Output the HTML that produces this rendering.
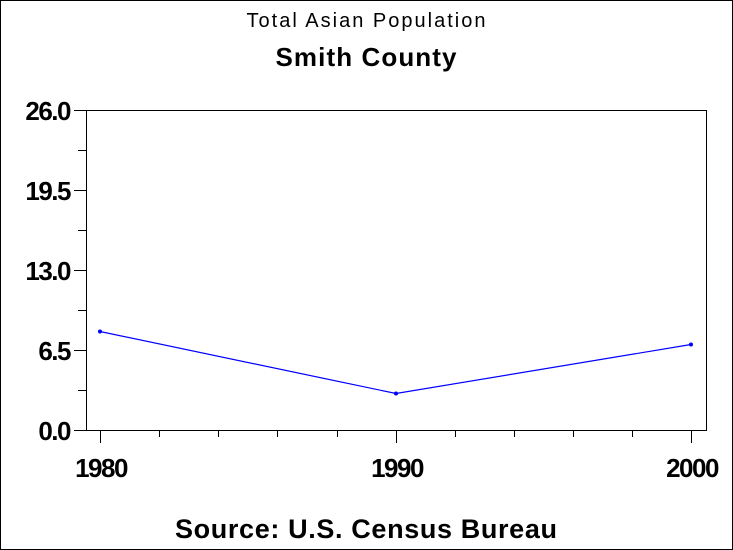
<!DOCTYPE html>
<html><head><style>
body{margin:0;background:#fff}
svg{display:block}
text{font-family:"Liberation Sans",Arial,sans-serif;fill:#000}
</style></head><body>
<svg width="733" height="550" viewBox="0 0 733 550">
<rect x="0.5" y="0.5" width="732" height="549" fill="#fff" stroke="#000"/>
<text x="366" y="27" font-size="20" text-anchor="middle" textLength="239" lengthAdjust="spacing">Total Asian Population</text>
<text x="366" y="66" font-size="26" font-weight="bold" text-anchor="middle" textLength="181" lengthAdjust="spacing">Smith County</text>
<rect x="86.5" y="110.5" width="620" height="320" fill="none" stroke="#000"/>
<g stroke="#000">
<line x1="74" y1="110.5" x2="86" y2="110.5"/>
<line x1="74" y1="190.5" x2="86" y2="190.5"/>
<line x1="74" y1="270.5" x2="86" y2="270.5"/>
<line x1="74" y1="350.5" x2="86" y2="350.5"/>
<line x1="74" y1="430.5" x2="86" y2="430.5"/>
<line x1="78" y1="150.5" x2="86" y2="150.5"/>
<line x1="78" y1="230.5" x2="86" y2="230.5"/>
<line x1="78" y1="310.5" x2="86" y2="310.5"/>
<line x1="78" y1="390.5" x2="86" y2="390.5"/>
<line x1="100.5" y1="431" x2="100.5" y2="443"/>
<line x1="396.5" y1="431" x2="396.5" y2="443"/>
<line x1="691.5" y1="431" x2="691.5" y2="443"/>
<line x1="159.5" y1="431" x2="159.5" y2="437"/>
<line x1="218.5" y1="431" x2="218.5" y2="437"/>
<line x1="277.5" y1="431" x2="277.5" y2="437"/>
<line x1="337.5" y1="431" x2="337.5" y2="437"/>
<line x1="455.5" y1="431" x2="455.5" y2="437"/>
<line x1="514.5" y1="431" x2="514.5" y2="437"/>
<line x1="573.5" y1="431" x2="573.5" y2="437"/>
<line x1="632.5" y1="431" x2="632.5" y2="437"/>
</g>
<g font-size="26" font-weight="bold" text-anchor="end" letter-spacing="-1.5">
<text x="70" y="120">26.0</text>
<text x="70" y="200">19.5</text>
<text x="70" y="280">13.0</text>
<text x="70" y="360">6.5</text>
<text x="70" y="440">0.0</text>
</g>
<g font-size="26" font-weight="bold" text-anchor="middle" letter-spacing="-1.5">
<text x="101" y="477">1980</text>
<text x="397" y="477">1990</text>
<text x="692" y="477">2000</text>
</g>
<polyline points="100,331.5 396,393.5 691,344.5" fill="none" stroke="#0000ff" stroke-width="1.2"/>
<g fill="#0000ff"><circle cx="100" cy="331.5" r="2"/><circle cx="396" cy="393.5" r="2"/><circle cx="691" cy="344.5" r="2"/></g>
<text x="366" y="538" font-size="27" font-weight="bold" text-anchor="middle" textLength="382" lengthAdjust="spacing">Source: U.S. Census Bureau</text>
</svg>
</body></html>
